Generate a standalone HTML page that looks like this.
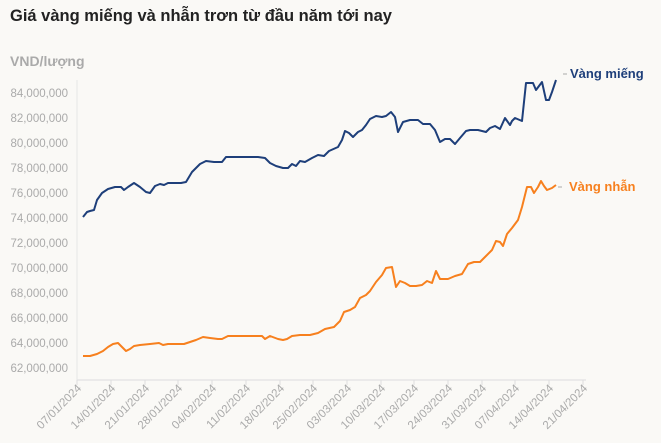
<!DOCTYPE html>
<html><head><meta charset="utf-8"><style>
body{margin:0;background:#faf9f6;}
svg{display:block;font-family:"Liberation Sans",sans-serif;}
</style></head><body>
<svg width="661" height="443" viewBox="0 0 661 443" xmlns="http://www.w3.org/2000/svg">
<rect width="661" height="443" fill="#faf9f6"/>
<text x="10" y="21" font-size="16.5" font-weight="bold" fill="#222">Giá vàng miếng và nhẫn trơn từ đầu năm tới nay</text>
<text x="10" y="66" font-size="14" font-weight="bold" fill="#aaa">VND/lượng</text>
<g font-size="11.5" fill="#aaa" text-anchor="end">
<text x="68" y="97">84,000,000</text><text x="68" y="122">82,000,000</text><text x="68" y="147">80,000,000</text><text x="68" y="172">78,000,000</text><text x="68" y="197">76,000,000</text><text x="68" y="222">74,000,000</text><text x="68" y="247">72,000,000</text><text x="68" y="272">70,000,000</text><text x="68" y="297">68,000,000</text><text x="68" y="322">66,000,000</text><text x="68" y="347">64,000,000</text><text x="68" y="372">62,000,000</text>
</g>
<line x1="77" y1="80" x2="77" y2="380" stroke="#e6e6e6"/>
<line x1="77" y1="380" x2="586" y2="380" stroke="#e6e6e6" stroke-width="1.5"/>
<g stroke="#ddd">
<path d="M77 380v5M111 380v5M145 380v5M178 380v5M212 380v5M246 380v5M280 380v5M313 380v5M347 380v5M381 380v5M414 380v5M448 380v5M482 380v5M515 380v5M549 380v5M583 380v5"/>
</g>
<g font-size="11.5" fill="#aaa" text-anchor="end">
<text transform="translate(82,389) rotate(-45)">07/01/2024</text>
<text transform="translate(116,389) rotate(-45)">14/01/2024</text>
<text transform="translate(150,389) rotate(-45)">21/01/2024</text>
<text transform="translate(183,389) rotate(-45)">28/01/2024</text>
<text transform="translate(217,389) rotate(-45)">04/02/2024</text>
<text transform="translate(251,389) rotate(-45)">11/02/2024</text>
<text transform="translate(285,389) rotate(-45)">18/02/2024</text>
<text transform="translate(318,389) rotate(-45)">25/02/2024</text>
<text transform="translate(352,389) rotate(-45)">03/03/2024</text>
<text transform="translate(386,389) rotate(-45)">10/03/2024</text>
<text transform="translate(419,389) rotate(-45)">17/03/2024</text>
<text transform="translate(453,389) rotate(-45)">24/03/2024</text>
<text transform="translate(487,389) rotate(-45)">31/03/2024</text>
<text transform="translate(520,389) rotate(-45)">07/04/2024</text>
<text transform="translate(554,389) rotate(-45)">14/04/2024</text>
<text transform="translate(588,389) rotate(-45)">21/04/2024</text>
</g>
<polyline fill="none" stroke="#1e3f7a" stroke-width="2" stroke-linejoin="round" points="83,217 87,212 90,211 94,210 97,200 102,193 108,189 115,187 121,187 124,190 128,187 134,183 140,187 146,192 150,193 155,186 160,184 164,185 168,183 172,183 181,183 186,182 192,172 200,164 206,161 214,162 222,162 226,157 232,157 242,157 258,157 265,158 270,163 276,166 283,168 288,168 292,164 296,166 300,161 305,162 312,158 318,155 324,156 329,151 338,147 342,140 345,131 349,133 353,137 358,132 362,130 366,125 370,119 376,116 382,117 386,116 391,112 395,117 398,132 403,122 410,120 418,120 423,124 430,124 435,130 440,142 445,139 450,139 455,144 460,138 466,131 470,130 478,130 482,131 486,132 490,128 495,126 500,129 505,118 510,125 512,121 515,118 522,121 526,83 533,83 536,90 542,82 546,100 549,100 552,92 556,80"/>
<polyline fill="none" stroke="#f7801e" stroke-width="2" stroke-linejoin="round" points="83,356 90,356 97,354 103,351 108,347 113,344 118,343 122,347 126,351 130,349 134,346 140,345 150,344 159,343 163,345 168,344 176,344 184,344 190,342 196,340 203,337 210,338 218,339 222,339 228,336 236,336 255,336 262,336 265,339 270,336 278,339 283,340 287,339 292,336 300,335 310,335 318,333 325,329 334,327 340,321 344,312 350,310 355,307 360,298 366,295 370,291 376,282 382,275 386,268 392,267 396,287 400,281 405,283 410,286 416,286 422,285 427,281 432,283 436,271 440,279 448,279 455,276 462,274 468,264 474,262 480,262 486,256 492,250 496,241 500,242 503,246 507,234 512,228 518,220 522,207 527,187 531,187 534,193 538,187 541,181 544,186 547,190 552,188 556,185"/>
<line x1="563" y1="74" x2="567" y2="74" stroke="#aaa"/>
<text x="570" y="78" font-size="13" font-weight="bold" fill="#1e3f7a">Vàng miếng</text>
<line x1="558" y1="187" x2="562" y2="187" stroke="#aaa"/>
<text x="569" y="191" font-size="13" font-weight="bold" fill="#f7801e">Vàng nhẫn</text>
</svg>
</body></html>
